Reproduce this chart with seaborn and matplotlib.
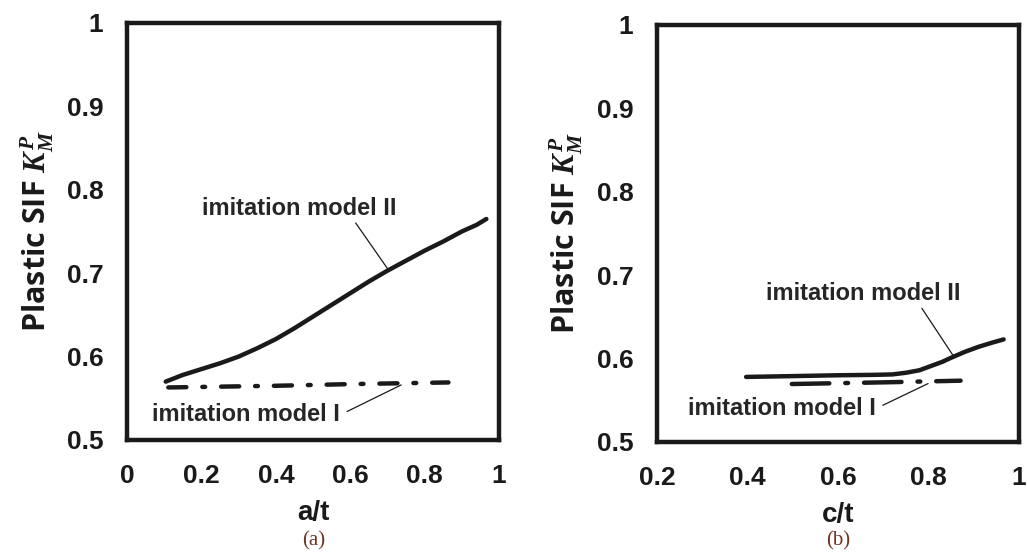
import numpy as np
import pandas as pd
import matplotlib
matplotlib.use("Agg")
import matplotlib.pyplot as plt
import seaborn as sns

# --- data ---
# (a) plastic SIF vs a/t
a_t_model2 = [0.104, 0.15, 0.20, 0.25, 0.30, 0.35, 0.40, 0.45, 0.50, 0.55,
              0.60, 0.65, 0.70, 0.75, 0.80, 0.85, 0.90, 0.94, 0.966]
k_a_model2 = [0.570, 0.578, 0.585, 0.592, 0.600, 0.610, 0.621, 0.634, 0.648,
              0.662, 0.676, 0.690, 0.703, 0.715, 0.727, 0.738, 0.750, 0.758,
              0.765]
a_t_model1 = [0.111, 0.40, 0.60, 0.864]
k_a_model1 = [0.563, 0.565, 0.567, 0.569]

# (b) plastic SIF vs c/t
c_t_model2 = [0.397, 0.50, 0.60, 0.68, 0.72, 0.75, 0.78, 0.80, 0.83, 0.85,
              0.88, 0.91, 0.94, 0.966]
k_c_model2 = [0.578, 0.579, 0.580, 0.5805, 0.581, 0.583, 0.586, 0.590, 0.596,
              0.601, 0.608, 0.614, 0.619, 0.623]
c_t_model1 = [0.498, 0.70, 0.871]
k_c_model1 = [0.5695, 0.5715, 0.5735]

label_model1 = "imitation model I"
label_model2 = "imitation model II"

sns.set_style("white")
plt.rcParams["font.family"] = ["Liberation Sans", "DejaVu Sans"]
plt.rcParams["font.weight"] = "bold"
plt.rcParams["mathtext.fontset"] = "custom"
plt.rcParams["mathtext.it"] = "Liberation Serif:italic:bold"
plt.rcParams["mathtext.rm"] = "Liberation Serif:bold"
plt.rcParams["lines.scale_dashes"] = False

fig = plt.figure(figsize=(10.27, 5.54), dpi=100)
ax1 = fig.add_axes([0.1237, 0.2058, 0.3622, 0.7527])
ax2 = fig.add_axes([0.6397, 0.2022, 0.3525, 0.7527])

dashdot_a = (0, (13, 11.5, 2, 11.5))
dashdot_b = (0, (27, 11.5, 2, 11.5))

df_a2 = pd.DataFrame({"x": a_t_model2, "y": k_a_model2})
df_a1 = pd.DataFrame({"x": a_t_model1, "y": k_a_model1})
df_b2 = pd.DataFrame({"x": c_t_model2, "y": k_c_model2})
df_b1 = pd.DataFrame({"x": c_t_model1, "y": k_c_model1})

sns.lineplot(data=df_a2, x="x", y="y", ax=ax1, color="#1a1a1a", lw=3.2,
             solid_capstyle="round")
sns.lineplot(data=df_a1, x="x", y="y", ax=ax1, color="#1a1a1a", lw=3.2,
             linestyle=dashdot_a, dash_capstyle="round")
sns.lineplot(data=df_b2, x="x", y="y", ax=ax2, color="#1a1a1a", lw=3.2,
             solid_capstyle="round")
sns.lineplot(data=df_b1, x="x", y="y", ax=ax2, color="#1a1a1a", lw=3.2,
             linestyle=dashdot_b, dash_capstyle="round")

arrow = dict(arrowstyle="-", color="#1a1a1a", lw=0.9, shrinkA=0, shrinkB=0)

# (a) annotations
ax1.annotate(label_model2, xy=(0.701, 0.705), xytext=(0.462, 0.778),
             ha="center", va="center", fontsize=17, fontweight="bold",
             arrowprops=dict(arrow, relpos=(0.78, 0.0)))
ax1.annotate(label_model1, xy=(0.737, 0.566), xytext=(0.32, 0.530),
             ha="center", va="center", fontsize=17, fontweight="bold",
             arrowprops=dict(arrow, relpos=(1.0, 0.5), shrinkA=3))

# (b) annotations
ax2.annotate(label_model2, xy=(0.854, 0.604), xytext=(0.656, 0.678),
             ha="center", va="center", fontsize=17, fontweight="bold",
             arrowprops=dict(arrow, relpos=(0.79, 0.0)))
ax2.annotate(label_model1, xy=(0.799, 0.570), xytext=(0.476, 0.540),
             ha="center", va="center", fontsize=17, fontweight="bold",
             arrowprops=dict(arrow, relpos=(1.0, 0.5), shrinkA=3))

for ax, xlim, xticks, xlab in [
    (ax1, (0, 1), [0, 0.2, 0.4, 0.6, 0.8, 1], "a/t"),
    (ax2, (0.2, 1), [0.2, 0.4, 0.6, 0.8, 1], "c/t"),
]:
    ax.set_xlim(*xlim)
    ax.set_ylim(0.5, 1.0)
    ax.set_xticks(xticks)
    ax.set_xticklabels([f"{t:g}" for t in xticks])
    yt = [0.5, 0.6, 0.7, 0.8, 0.9, 1.0]
    ax.set_yticks(yt)
    ax.set_yticklabels([f"{t:g}" for t in yt])
    for s in ax.spines.values():
        s.set_linewidth(3.2)
        s.set_color("#1a1a1a")
    ax.tick_params(direction="in", length=6, width=3, color="#1a1a1a",
                   labelsize=19, top=False, right=False)
    ax.tick_params(axis="x", pad=17)
    ax.tick_params(axis="y", pad=17)
    for lab in ax.get_xticklabels() + ax.get_yticklabels():
        lab.set_fontweight("bold")
        lab.set_color("#1a1a1a")
    ax.set_xlabel(xlab, fontsize=20, fontweight="bold", color="#1a1a1a",
                  labelpad=9)
    ax.set_ylabel("Plastic SIF $K_M^P$", fontsize=22, fontweight="bold",
                  family=["Open Sans", "DejaVu Sans"], color="#1a1a1a",
                  labelpad=8)

fig.text(0.305, 0.024, "(a)", ha="center", va="center", fontsize=15,
         family=["Liberation Serif"], fontweight="normal", color="#6e3526")
fig.text(0.8165, 0.024, "(b)", ha="center", va="center", fontsize=15,
         family=["Liberation Serif"], fontweight="normal", color="#6e3526")

fig.savefig("out.png", dpi=100)
